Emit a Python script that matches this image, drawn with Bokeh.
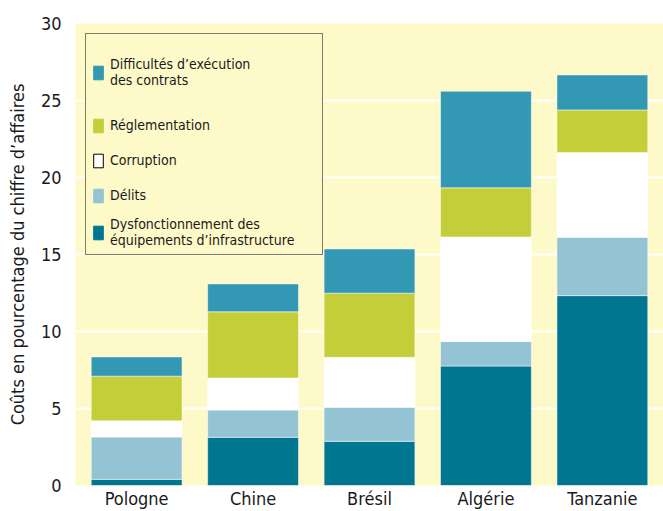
from bokeh.plotting import figure
from bokeh.models import FixedTicker, Legend, LegendItem, ColumnDataSource, FactorRange
from bokeh.embed import file_html
from bokeh.resources import INLINE

countries = ["Pologne", "Chine", "Brésil", "Algérie", "Tanzanie"]
infrastructure = [0.4, 3.13, 2.87, 7.76, 12.33]
delits = [2.75, 1.77, 2.21, 1.59, 3.79]
corruption = [1.05, 2.08, 3.24, 6.79, 5.51]
reglementation = [2.9, 4.3, 4.17, 3.19, 2.76]
contrats = [1.25, 1.81, 2.87, 6.27, 2.27]
y_ticks = [0, 5, 10, 15, 20, 25, 30]

series = ["infrastructure", "delits", "corruption", "reglementation", "contrats"]
series_labels = [
    "Dysfonctionnement des\néquipements d’infrastructure",
    "Délits",
    "Corruption",
    "Réglementation",
    "\u00a0\nDifficultés d’exécution\ndes contrats\n\u00a0",
]
colors = ["#007691", "#94C4D3", "#FFFFFF", "#C4CE39", "#3398B3"]
BG = "#FEF9C8"
FONT = "DejaVu Sans Condensed, Roboto"
TXT = "#1a1a1a"

source = ColumnDataSource(dict(country=countries, infrastructure=infrastructure,
                               delits=delits, corruption=corruption,
                               reglementation=reglementation, contrats=contrats))

p = figure(width=663, height=511, output_backend="svg", toolbar_location=None,
           x_range=FactorRange(factors=countries, range_padding=0.01),
           y_range=(0, 30), min_border_left=75, min_border_right=0,
           min_border_top=23, min_border_bottom=25)
p.background_fill_color = BG
p.border_fill_color = "white"
p.outline_line_color = None

p.vbar_stack(series, x="country", width=0.78, source=source,
             fill_color=colors, line_color="white", line_alpha=0.5, line_width=1)

# legend swatches (hidden proxy renderers)
items = []
for name, lab, col in reversed(list(zip(series, series_labels, colors))):
    r = p.vbar(x=[countries[0]], top=[0.0], width=0.5, fill_color=col,
               line_color=("black" if name == "corruption" else col), line_width=1,
               visible=False)
    items.append(LegendItem(label=lab, renderers=[r]))

legend = Legend(items=items, location="top_left", margin=10, padding=6, spacing=7,
                glyph_width=12, glyph_height=17, label_standoff=6, label_width=206,
                label_height=28,
                label_text_font=FONT, label_text_font_size="14px", label_text_color=TXT,
                border_line_color="black", border_line_width=1,
                background_fill_color=BG, background_fill_alpha=1)
p.add_layout(legend)

p.yaxis.ticker = FixedTicker(ticks=y_ticks)
p.ygrid.ticker = FixedTicker(ticks=y_ticks)
p.ygrid.grid_line_color = "white"
p.ygrid.grid_line_width = 2
p.xgrid.visible = False

for ax in (p.xaxis, p.yaxis):
    ax.axis_line_color = None
    ax.major_tick_line_color = None
    ax.minor_tick_line_color = None
    ax.major_label_text_font = FONT
    ax.major_label_text_font_size = "18px"
    ax.major_label_text_color = TXT

p.yaxis.major_label_standoff = 8
p.xaxis.major_label_standoff = -4
p.yaxis.axis_label = "Coûts en pourcentage du chiffre d’affaires"
p.yaxis.axis_label_text_font = FONT
p.yaxis.axis_label_text_font_size = "18px"
p.yaxis.axis_label_text_font_style = "normal"
p.yaxis.axis_label_text_color = TXT
p.yaxis.axis_label_standoff = 10

open("out.html", "w").write(file_html(p, INLINE))
